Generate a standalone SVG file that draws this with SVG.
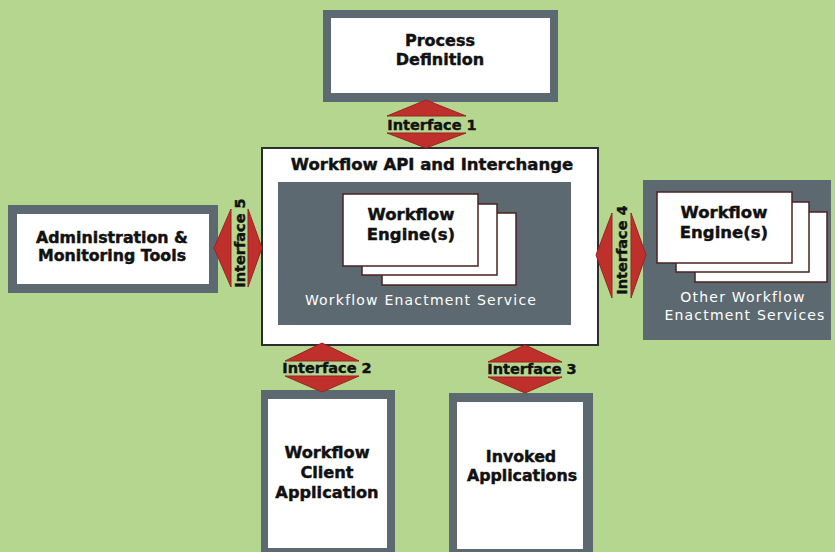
<svg xmlns="http://www.w3.org/2000/svg" width="835" height="552" viewBox="0 0 835 552">
  <style>
    .frame { fill: #5d6970; }
    .panel { fill: #ffffff; }
    .card { fill: #ffffff; stroke: #4a2222; stroke-width: 1.5; }
    .lbl { font-family: "DejaVu Sans", Verdana, sans-serif; font-weight: bold; fill: #111111; stroke: #111111; stroke-width: 0.45; text-anchor: middle; }
    .svc { font-family: "DejaVu Sans", Verdana, sans-serif; fill: #ffffff; text-anchor: middle; font-size: 14px; letter-spacing: 1.2px; }
    .iface { font-family: "DejaVu Sans", Verdana, sans-serif; font-weight: bold; fill: #111111; stroke: #111111; stroke-width: 0.4; text-anchor: middle; font-size: 14.5px; }
    .head { fill: #bf2f2c; stroke: #9a2422; stroke-width: 1; }
  </style>

  <!-- background -->
  <rect x="0" y="0" width="835" height="552" fill="#b5d68e"/>

  <!-- Process Definition -->
  <g id="process-definition">
    <rect class="frame" x="323" y="10" width="235" height="92"/>
    <rect class="panel" x="331" y="18" width="219" height="75"/>
    <text class="lbl" font-size="16" x="440" y="46">Process</text>
    <text class="lbl" font-size="16" x="440" y="65">Definition</text>
  </g>

  <!-- Workflow API and Interchange with the enactment service -->
  <g id="workflow-api">
    <rect x="262" y="148" width="336" height="197" fill="#ffffff" stroke="#2e2e2e" stroke-width="2"/>
    <text class="lbl" font-size="16.5" x="432" y="170">Workflow API and Interchange</text>
  </g>

  <g id="enactment-service">
    <rect class="frame" x="278" y="182" width="293" height="143"/>
    <rect class="card" x="382" y="213" width="134" height="72"/>
    <rect class="card" x="362" y="204" width="135" height="71"/>
    <rect class="card" x="343" y="194" width="135" height="72"/>
    <text class="lbl" font-size="16.5" x="411" y="220">Workflow</text>
    <text class="lbl" font-size="16.5" x="411" y="240">Engine(s)</text>
    <text class="svc" x="421" y="305">Workflow Enactment Service</text>
  </g>

  <!-- Administration & Monitoring Tools -->
  <g id="admin-tools">
    <rect class="frame" x="8" y="205" width="210" height="88"/>
    <rect class="panel" x="17" y="214" width="192" height="70"/>
    <text class="lbl" font-size="15.8" x="112" y="243">Administration &amp;</text>
    <text class="lbl" font-size="15.8" x="112" y="261">Monitoring Tools</text>
  </g>

  <!-- Other Workflow Enactment Services -->
  <g id="other-services">
    <rect class="frame" x="643" y="180" width="188" height="160"/>
    <rect class="card" x="695" y="212" width="132" height="70"/>
    <rect class="card" x="676" y="202" width="133" height="70"/>
    <rect class="card" x="657" y="192" width="135" height="71"/>
    <text class="lbl" font-size="16.5" x="724" y="218">Workflow</text>
    <text class="lbl" font-size="16.5" x="724" y="238">Engine(s)</text>
    <text class="svc" x="743" y="302">Other Workflow</text>
    <text class="svc" x="745" y="320">Enactment Services</text>
  </g>

  <!-- Workflow Client Application -->
  <g id="client-application">
    <rect class="frame" x="261" y="390" width="134" height="162"/>
    <rect class="panel" x="268" y="399" width="119" height="149"/>
    <text class="lbl" font-size="16.2" x="327" y="458">Workflow</text>
    <text class="lbl" font-size="16.2" x="327" y="478">Client</text>
    <text class="lbl" font-size="16.2" x="327" y="498">Application</text>
  </g>

  <!-- Invoked Applications -->
  <g id="invoked-applications">
    <rect class="frame" x="449" y="393" width="144" height="159"/>
    <rect class="panel" x="457" y="402" width="126" height="147"/>
    <text class="lbl" font-size="15.8" x="521" y="462">Invoked</text>
    <text class="lbl" font-size="15.8" x="522" y="481">Applications</text>
  </g>

  <!-- interface connectors: double-headed arrows with the label between the heads -->
  <g id="connectors">
    <g id="interface-1">
      <polygon class="head" points="426,100 466,116 387,116"/>
      <polygon class="head" points="387,133 466,133 426,148"/>
      <text class="iface" x="432" y="130">Interface 1</text>
    </g>
    <g id="interface-2">
      <polygon class="head" points="322,343 359,361 285,361"/>
      <polygon class="head" points="285,376 359,376 322,392"/>
      <text class="iface" x="327" y="373">Interface 2</text>
    </g>
    <g id="interface-3">
      <polygon class="head" points="525,345 562,362 488,362"/>
      <polygon class="head" points="488,377 562,377 525,393"/>
      <text class="iface" x="532" y="374">Interface 3</text>
    </g>
    <g id="interface-5">
      <polygon class="head" points="214,248 231,209 231,287"/>
      <polygon class="head" points="248,209 248,287 262,248"/>
      <text class="iface" transform="translate(245,243) rotate(-90)" x="0" y="0">Interface 5</text>
    </g>
    <g id="interface-4">
      <polygon class="head" points="596,255 612,213 612,298"/>
      <polygon class="head" points="631,213 631,298 646,255"/>
      <text class="iface" transform="translate(627,250) rotate(-90)" x="0" y="0">Interface 4</text>
    </g>
  </g>
</svg>
